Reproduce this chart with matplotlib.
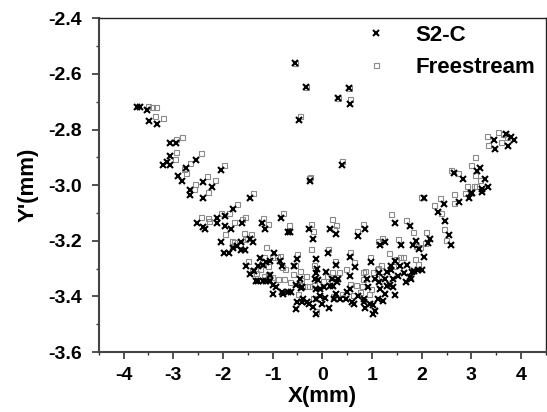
import matplotlib
matplotlib.use("Agg")
import matplotlib.pyplot as plt
from matplotlib.ticker import MultipleLocator, FormatStrFormatter

plt.rcParams['font.family'] = ['Liberation Sans', 'DejaVu Sans']
plt.rcParams['font.weight'] = 'bold'
plt.rcParams['axes.unicode_minus'] = False

# S2-C points (x marks)
s2c_x = [-3.72, -3.66, -3.53, -3.49, -3.33,
         -3.06, -2.94, -3.07, -3.21, -3.13, -3.06, -2.90, -2.83, -2.75, -2.54, -2.40, -2.23, -2.04, -2.66, -2.66, -2.40, -1.45,
         -2.52, -2.40, -2.37, -2.11, -2.11, -1.96, -1.96, -1.80, -1.84, -1.61, -2.04, -1.97, -1.88, -1.80, -1.72, -1.64, -1.56,
         -1.64, -1.45, -1.40, -1.21, -1.15, -0.83, -0.70, -0.66, -0.26,
         -1.53, -1.46, -1.37, -1.29, -1.25, -1.20, -1.13, -1.05, -0.98, -0.86, -0.82, -1.34, -1.29, -1.20, -1.14, -1.05, -0.99,
         -0.93, -0.99, -0.82, -0.80, -0.70, -0.64, -0.56, -0.50, -0.44, -0.52, -0.42, -0.38, -0.31, -0.52,
         -0.19, -0.13, -0.13, 0.12, 0.16, 0.27, 0.27, -0.11, 0.71, 0.85, 0.56, 0.66, 1.17, 1.26, 1.47, 1.58, 1.76, 1.89, 1.82,
         1.94, 2.04, 2.17, 2.13, 2.05, 2.32, 2.45, 2.47, 2.54, 2.59, 2.75, 2.96, 3.02, 3.22, 3.34,
         0.97, 0.89, 1.14, 1.07, 1.30, 1.26, 1.38, 1.43, 1.53, 1.56, 1.70, 1.64, 1.78, 1.80, 1.85, 1.92, 2.00,
         -0.40, -0.12, -0.05, 0.03, -0.13, -0.19, -0.12, 0.05, 0.13, 0.19, 0.21, 0.32, 0.27, 0.35, 0.55, 0.56, 0.59, 0.64,
         0.50, 0.47, 0.72, 0.83, 0.86, 0.91, 0.95, 1.02, 1.02, 1.07, 1.13, 1.17, 1.26, 1.30, 1.37, 1.43, 1.47, 1.14,
         -0.54, -0.32, 0.53, 0.31, 0.55, -0.46, 0.39, -0.25,
         3.46, 3.47, 3.74, 3.79, 3.86, 3.70, 2.66, 2.83, 3.17, 3.12, 3.27, 3.21, 3.00,
         -0.15, -0.09, 0.08, 0.15, 0.29, -0.51, -0.40, -0.27, -0.04, 0.00, 0.24, -1.05,
         1.46, 1.39, 1.69, 1.76, 1.22, 0.83]
s2c_y = [-2.720, -2.720, -2.730, -2.770, -2.780,
         -2.848, -2.848, -2.896, -2.926, -2.918, -2.926, -2.968, -2.986, -2.938, -2.908, -2.988, -3.007, -2.947, -3.019, -3.037, -3.045, -3.045,
         -3.137, -3.151, -3.159, -3.119, -3.137, -3.111, -3.147, -3.087, -3.159, -3.137, -3.206, -3.245, -3.245, -3.227, -3.219, -3.234, -3.234,
         -3.206, -3.195, -3.206, -3.135, -3.159, -3.119, -3.168, -3.168, -3.156,
         -3.292, -3.320, -3.308, -3.292, -3.263, -3.288, -3.276, -3.272, -3.245, -3.272, -3.292, -3.344, -3.344, -3.344, -3.344, -3.344, -3.359,
         -3.368, -3.392, -3.383, -3.392, -3.383, -3.383, -3.292, -3.266, -3.338, -3.359, -3.371, -3.410, -3.421, -3.446,
         -3.195, -3.266, -3.317, -3.245, -3.156, -3.177, -3.288, -3.300, -3.183, -3.156, -3.257, -3.296, -3.216, -3.206, -3.137, -3.216, -3.147, -3.201, -3.216,
         -3.228, -3.257, -3.192, -3.209, -3.047, -3.097, -3.068, -3.128, -3.180, -3.216, -3.061, -3.047, -3.027, -3.025, -3.008,
         -3.276, -3.336, -3.317, -3.338, -3.312, -3.338, -3.305, -3.338, -3.326, -3.290, -3.288, -3.317, -3.336, -3.314, -3.309, -3.305, -3.305,
         -3.368, -3.374, -3.374, -3.368, -3.410, -3.439, -3.463, -3.404, -3.443, -3.338, -3.364, -3.338, -3.392, -3.410, -3.326, -3.374, -3.421, -3.428,
         -3.383, -3.410, -3.398, -3.410, -3.443, -3.368, -3.428, -3.431, -3.463, -3.452, -3.410, -3.374, -3.392, -3.364, -3.359, -3.368, -3.395, -3.350,
         -2.559, -2.647, -2.651, -2.687, -2.707, -2.767, -2.926, -2.986,
         -2.839, -2.870, -2.858, -2.827, -2.839, -2.817, -2.958, -2.977, -2.938, -2.950, -2.977, -3.015, -3.030,
         -3.338, -3.340, -3.314, -3.362, -3.350, -3.421, -3.421, -3.428, -3.398, -3.428, -3.410, -3.323,
         -3.273, -3.290, -3.350, -3.332, -3.416, -3.421]

# Freestream points (open squares)
free_x = [-3.51, -3.43, -3.35, -3.37, -3.20, -2.95, -2.83, -2.95, -2.97, -2.78, -2.74, -2.66, -2.45, -2.57, -2.32, -2.16, -1.97, -2.58, -1.40, -0.26,
          -2.31, -2.44, -2.31, -2.29, -2.03, -1.87, -1.78, -1.72, -1.62, -1.56, -1.20, -1.10, -0.80, -0.67, -1.96, -1.82, -1.81, -1.66,
          -1.58, -1.52, -1.44, -1.56, -1.77, -1.49, -1.41, -1.33, -1.26, -1.22, -1.18, -1.13, -1.10, -1.02, -0.91, -0.86, -0.82, -0.75,
          -0.59, -0.50, -0.55, -0.32, -0.26, -0.48, -0.46, -1.17, -1.09, -1.02, -0.89, -0.78, -0.66,
          -0.23, -0.19, -0.22, -0.17, 0.11, 0.19, 0.24, 0.28, 0.25, 0.70, 0.82, 0.55, 0.63, 1.13, 1.21, 1.38, 1.53, 1.69, 1.82, 1.88,
          1.97, 2.09, 2.06, 1.98, 2.24, 2.39, 2.37, 2.66, 2.45, 2.49, 2.87, 3.06, 2.65, 0.95, 0.86, 1.19, 1.10, 1.35, 1.49, 1.56, 1.42,
          1.62, 1.86, 1.93, -0.44, -0.42, -0.31, -0.16, 0.01, 0.09, 0.19, 0.21, 0.33, 0.48, 0.82, 1.01, 1.13, 1.18, 0.82, 0.94, 0.98,
          0.55, 0.68, 0.80, 0.75, -0.12, 0.21, 0.40, 0.62, -0.19,
          -0.54, -0.32, 0.53, 0.31, 0.55, -0.45, 0.39, -0.24,
          3.31, 3.34, 3.54, 3.63, 3.59, 3.71, 3.07, 2.99, 2.58, 2.74, 3.07, 3.17, 3.10, 2.91]
free_y = [-2.714, -2.720, -2.720, -2.750, -2.760, -2.833, -2.828, -2.880, -2.905, -2.941, -2.958, -2.920, -2.886, -2.997, -2.968, -2.980, -2.929, -3.013, -3.030, -2.973,
          -3.025, -3.113, -3.119, -3.129, -3.101, -3.101, -3.133, -3.066, -3.120, -3.113, -3.117, -3.141, -3.099, -3.144, -3.177, -3.201, -3.219, -3.212,
          -3.173, -3.189, -3.177, -3.195, -3.206, -3.272, -3.305, -3.317, -3.302, -3.276, -3.257, -3.224, -3.290, -3.257, -3.260, -3.254, -3.296, -3.300,
          -3.320, -3.248, -3.288, -3.326, -3.362, -3.392, -3.356, -3.326, -3.320, -3.332, -3.336, -3.338, -3.350,
          -3.141, -3.165, -3.230, -3.288, -3.228, -3.123, -3.159, -3.144, -3.272, -3.165, -3.141, -3.240, -3.278, -3.201, -3.189, -3.105, -3.192, -3.125, -3.168, -3.219,
          -3.224, -3.168, -3.209, -3.043, -3.073, -3.101, -3.045, -3.033, -3.156, -3.197, -3.030, -3.004, -3.063, -3.257, -3.308, -3.288, -3.302, -3.245, -3.266, -3.260, -3.292,
          -3.260, -3.266, -3.284, -3.308, -3.340, -3.362, -3.359, -3.345, -3.326, -3.314, -3.332, -3.314, -3.300, -3.314, -3.314, -3.297, -3.326, -3.338, -3.392, -3.374,
          -3.356, -3.359, -3.364, -3.386, -3.452, -3.400, -3.392, -3.395, -3.404,
          -2.559, -2.647, -2.651, -2.687, -2.690, -2.752, -2.912, -2.972,
          -2.822, -2.855, -2.808, -2.815, -2.846, -2.827, -2.898, -2.929, -2.946, -2.956, -2.965, -2.980, -3.004, -3.004]

fig = plt.figure(figsize=(5.47, 4.12), dpi=100)
ax = fig.add_axes([0.1805, 0.1456, 0.8175, 0.81])

ax.plot(free_x, free_y, linestyle='none', marker='s', markersize=3.6,
        markerfacecolor='none', markeredgecolor='#8a8a8a', markeredgewidth=0.8,
        label='Freestream', zorder=2)
ax.plot(s2c_x, s2c_y, linestyle='none', marker='x', markersize=4.7,
        color='black', markeredgewidth=1.5, label='S2-C', zorder=3)

ax.set_xlim(-4.5, 4.5)
ax.set_ylim(-3.6, -2.4)
ax.xaxis.set_major_locator(MultipleLocator(1))
ax.xaxis.set_minor_locator(MultipleLocator(0.5))
ax.yaxis.set_major_locator(MultipleLocator(0.2))
ax.yaxis.set_minor_locator(MultipleLocator(0.1))
ax.yaxis.set_major_formatter(FormatStrFormatter('%.1f'))

ax.tick_params(which='major', direction='out', length=5, width=1.2,
               color='#333333', labelsize=14, pad=6)
ax.tick_params(which='minor', direction='out', length=2.5, width=1.0, color='#333333')
ax.tick_params(axis='y', pad=7)
for lab in ax.get_xticklabels() + ax.get_yticklabels():
    lab.set_fontweight('bold')

for side in ['left', 'bottom']:
    ax.spines[side].set_color('#444444')
    ax.spines[side].set_linewidth(1.5)
for side in ['top', 'right']:
    ax.spines[side].set_color('#222222')
    ax.spines[side].set_linewidth(1.0)

ax.set_xlabel('X(mm)', fontsize=16, fontweight='bold', labelpad=1)
ax.set_ylabel("Y'(mm)", fontsize=16, fontweight='bold', labelpad=7)

handles, labels = ax.get_legend_handles_labels()
leg = ax.legend(handles[::-1], labels[::-1], loc='upper right',
                bbox_to_anchor=(0.9866, 0.994), frameon=False,
                numpoints=1, handlelength=2.0, handletextpad=0.8,
                labelspacing=0.5, borderaxespad=0.1, borderpad=0.1,
                prop={'weight': 'bold', 'size': 16})

fig.savefig('out.png', dpi=100)
